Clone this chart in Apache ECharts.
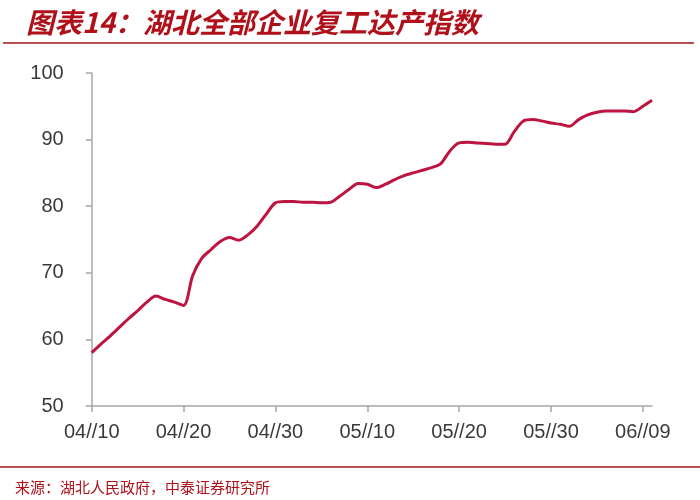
<!DOCTYPE html>
<html>
<head>
<meta charset="utf-8">
<script src="https://cdn.jsdelivr.net/npm/echarts@6/dist/echarts.min.js"></script>
<style>html,body{margin:0;padding:0;background:#fff;}#c{width:700px;height:500px;}</style>
</head>
<body>
<div id="c"></div>
<script>
var titleText = '图表14：湖北全部企业复工达产指数';
var sourceText = '来源：湖北人民政府，中泰证券研究所';
var categories = [
 '04//10','04//11','04//12','04//13','04//14','04//15','04//16','04//17','04//18','04//19',
 '04//20','04//21','04//22','04//23','04//24','04//25','04//26','04//27','04//28','04//29',
 '04//30','05//01','05//02','05//03','05//04','05//05','05//06','05//07','05//08','05//09',
 '05//10','05//11','05//12','05//13','05//14','05//15','05//16','05//17','05//18','05//19',
 '05//20','05//21','05//22','05//23','05//24','05//25','05//26','05//27','05//28','05//29',
 '05//30','05//31','06//01','06//02','06//03','06//04','06//05','06//06','06//07','06//08',
 '06//09','06//10'
];
var indexValues = [
 58.0,59.3,60.5,61.8,63.1,64.3,65.6,66.5,66.0,65.6,
 65.1,69.6,72.2,73.5,74.7,75.3,74.9,75.7,77.0,78.8,
 80.5,80.7,80.7,80.6,80.6,80.5,80.6,81.5,82.5,83.4,
 83.3,82.8,83.3,84.0,84.6,85.0,85.4,85.8,86.4,88.3,
 89.5,89.6,89.5,89.4,89.3,89.3,91.2,92.8,93.0,92.8,
 92.5,92.3,92.0,93.0,93.7,94.1,94.3,94.3,94.3,94.2,
 95.0,95.9
];
var yMin = 50, yMax = 100, yStep = 10;

var chart = echarts.init(document.getElementById('c'));
var axisGrey = '#a6a6a6';
var labelColor = '#3a3a3a';
chart.setOption({
  animation: false,
  backgroundColor: '#ffffff',
  title: [{
    text: titleText,
    left: 21, top: 3,
    textStyle: {color: '#b0101a', fontSize: 28, fontWeight: 'bold', fontStyle: 'italic', fontFamily: 'Noto Sans CJK SC'}
  }, {
    text: sourceText,
    left: 10, top: 475,
    textStyle: {color: '#b0101a', fontSize: 15, fontWeight: 'normal', fontFamily: 'Noto Sans CJK SC'}
  }],
  graphic: [
    {type: 'line', shape: {x1: 3, y1: 43, x2: 694, y2: 43}, style: {stroke: '#9e1616', lineWidth: 1.6}},
    {type: 'line', shape: {x1: 0, y1: 467, x2: 700, y2: 467}, style: {stroke: '#9e1616', lineWidth: 1.5}}
  ],
  grid: {left: 91.7, right: 48, top: 73, bottom: 94},
  xAxis: {
    type: 'category',
    data: categories,
    boundaryGap: false,
    axisLine: {lineStyle: {color: axisGrey, width: 1.5}},
    axisTick: {show: true, length: 6, lineStyle: {color: axisGrey, width: 1.5}, interval: function(i){return i % 10 === 0;}},
    axisLabel: {interval: function(i){return i % 10 === 0;}, color: labelColor, fontSize: 20, fontFamily: 'Liberation Sans', margin: 16},
    splitLine: {show: false}
  },
  yAxis: {
    type: 'value',
    min: yMin, max: yMax, interval: yStep,
    axisLine: {show: true, lineStyle: {color: axisGrey, width: 1.5}},
    axisTick: {show: true, length: 6, lineStyle: {color: axisGrey, width: 1.5}},
    axisLabel: {color: labelColor, fontSize: 20, fontFamily: 'Liberation Sans', margin: 28},
    splitLine: {show: false}
  },
  series: [{
    type: 'line',
    data: indexValues,
    smooth: 0.3,
    symbol: 'none',
    lineStyle: {color: '#be1540', width: 3}
  }]
});
</script>
</body>
</html>
